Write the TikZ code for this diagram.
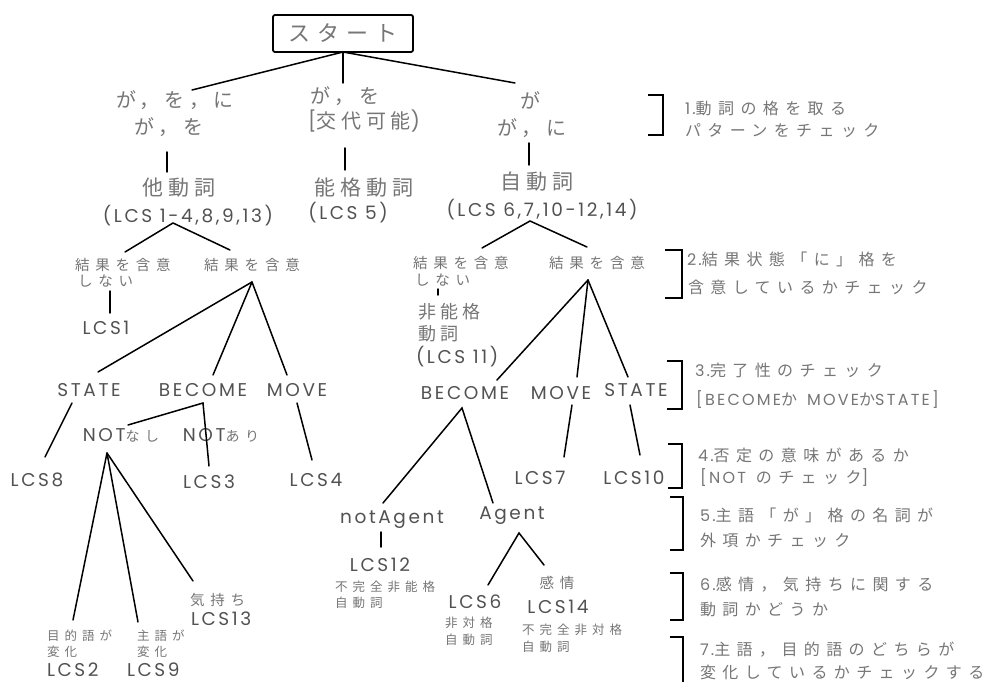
\documentclass[tikz,border=0pt]{standalone}
\usepackage{fontspec}
\setmainfont{Poppins}
\newfontfamily\lat[LetterSpace=14]{Poppins}
\newfontfamily\jpa[LetterSpace=40]{Noto Sans CJK JP}
\newfontfamily\jpb[LetterSpace=24]{Noto Sans CJK JP}
\newfontfamily\jpc[LetterSpace=32]{Noto Sans CJK JP}
\newcommand\fsz[1]{\fontsize{#1}{#1}\selectfont}
\definecolor{jtext}{HTML}{767676}
\definecolor{ltext}{HTML}{525252}
\tikzset{
  every node/.style={inner sep=0pt, outer sep=0pt},
  startbox/.style={draw, line width=1.8pt, rounded corners=2pt, minimum width=140pt, minimum height=37pt, font=\jpc\fsz{22}, text=jtext},
  jbig/.style={font=\jpb\fsz{20}, text=jtext},
  jmid/.style={font=\jpb\fsz{18}, text=jtext},
  jlab/.style={font=\jpb\fsz{21}, text=jtext},
  jsm/.style={font=\jpa\fsz{14.5}, text=jtext},
  jxs/.style={font=\jpa\fsz{12.5}, text=jtext},
  jann/.style={font=\jpa\fsz{16}, text=jtext, anchor=west},
  lab/.style={font=\lat\fsz{18.5}, text=ltext},
  conn/.style={line width=1.5pt, line cap=round},
  brk/.style={line width=2.4pt},
}
\begin{document}
\begin{tikzpicture}[x=1pt,y=-1pt]
\useasboundingbox (0,0) rectangle (999,682);
\fill[white] (0,0) rectangle (999,682);

% ---------- top ----------
\node[startbox] (start) at (343,33.5) {スタート};

\node[jbig] (g1a) at (175,100) {が，を，に};
\node[jbig] (g1b) at (169,127) {が，を};
\node[jbig] (g2a) at (345,96) {が，を};
\node[jbig] (g2b) at (364,121) {{\lat[}交代可能{\lat)}};
\node[jbig] (g3a) at (530,100) {が};
\node[jbig] (g3b) at (532,128) {が，に};

\node[jlab] (v1) at (179,188) {他動詞};
\node[lab] (l1) at (188,216) {(LCS 1-4,8,9,13)};
\node[jlab] (v2) at (364,188) {能格動詞};
\node[lab] (l2) at (348,213) {(LCS 5)};
\node[jlab] (v3) at (537,182) {自動詞};
\node[lab] (l3) at (542,210) {(LCS 6,7,10-12,14)};

\coordinate (e1a) at (192,90);
\coordinate (e2a) at (343,83);
\coordinate (e3a) at (515,83);
\draw[conn] (start.south) -- (e1a);
\draw[conn] (start.south) -- (e2a);
\draw[conn] (start.south) -- (e3a);

\coordinate (d1t) at (167,152); \coordinate (d1b) at (167,172);
\coordinate (d2t) at (345,148); \coordinate (d2b) at (345,170);
\coordinate (d3t) at (529,143); \coordinate (d3b) at (529,165);
\draw[conn] (d1t) -- (d1b);
\draw[conn] (d2t) -- (d2b);
\draw[conn] (d3t) -- (d3b);

% ---------- left tree ----------
\node[jsm, anchor=west] (kL1) at (75,265) {結果を含意};
\node[jsm, anchor=west] (kL1b) at (78,281) {しない};
\node[jsm] (kL2) at (252,265) {結果を含意};
\node[lab] (lcs1) at (106,328) {LCS1};
\coordinate (aL) at (173,223);
\coordinate (aL1) at (125,252);
\coordinate (aL2) at (230,250);
\draw[conn] (aL1) -- (aL) -- (aL2);
\coordinate (s1t) at (110,291); \coordinate (s1b) at (110,313);
\draw[conn] (s1t) -- (s1b);

\node[lab] (stL) at (89,390) {STATE};
\node[lab] (beL) at (203,390) {BECOME};
\node[lab] (moL) at (297,390) {MOVE};
\coordinate (aK) at (252,282);
\coordinate (stLt) at (98,372);
\coordinate (beLt) at (213,375);
\coordinate (moLt) at (287,375);
\draw[conn] (aK) -- (stLt);
\draw[conn] (aK) -- (beLt);
\draw[conn] (aK) -- (moLt);

\node[lab] (notn) at (121,435) {NOT{\jpa\fsz{14}\color{jtext}なし}};
\node[lab] (nota) at (221,435) {NOT{\jpa\fsz{14}\color{jtext}あり}};
\node[lab] (lcs8) at (37,480) {LCS8};
\node[lab] (lcs3) at (209,482) {LCS3};
\node[lab] (lcs4) at (316,480) {LCS4};

\coordinate (stLb) at (72,403); \coordinate (lcs8t) at (45,457);
\draw[conn] (stLb) -- (lcs8t);
\coordinate (beLb) at (203,403);
\coordinate (notnt) at (128,425);
\coordinate (lcs3t) at (209,466);
\draw[conn] (notnt) -- (beLb) -- (lcs3t);
\coordinate (moLb) at (297,403); \coordinate (lcs4t) at (312,460);
\draw[conn] (moLb) -- (lcs4t);

\node[jsm, anchor=west] (kimo) at (190,600) {気持ち};
\node[lab, anchor=west] (lcs13) at (191,619) {LCS13};
\node[jxs, anchor=west] (mok) at (47,636) {目的語が};
\node[jxs, anchor=west] (mok2) at (47,652) {変化};
\node[lab, anchor=west] (lcs2) at (47,670) {LCS2};
\node[jxs, anchor=west] (shu) at (137,636) {主語が};
\node[jxs, anchor=west] (shu2) at (137,652) {変化};
\node[lab, anchor=west] (lcs9) at (127,670) {LCS9};
\coordinate (aN) at (107,453);
\coordinate (mokt) at (73,620);
\coordinate (shut) at (138,622);
\coordinate (kimot) at (193,581);
\draw[conn] (aN) -- (mokt);
\draw[conn] (aN) -- (shut);
\draw[conn] (aN) -- (kimot);

% ---------- right tree ----------
\node[jsm, anchor=west] (kR1) at (413,263) {結果を含意};
\node[jsm, anchor=west] (kR1b) at (415,280) {しない};
\node[jsm] (kR2) at (597,263) {結果を含意};
\coordinate (aR) at (530,221);
\coordinate (aR1) at (482,248);
\coordinate (aR2) at (587,247);
\draw[conn] (aR1) -- (aR) -- (aR2);
\coordinate (tkt) at (438,289); \coordinate (tkb) at (438,295);
\draw[conn] (tkt) -- (tkb);

\node[jmid, anchor=west] (hin1) at (418,312) {非能格};
\node[jmid, anchor=west] (hin2) at (418,334) {動詞};
\node[lab, anchor=west] (lcs11) at (416,357) {(LCS 11)};

\node[lab] (beR) at (465,393) {BECOME};
\node[lab] (moR) at (561,393) {MOVE};
\node[lab] (stR) at (636,390) {STATE};
\coordinate (aK2) at (588,280);
\coordinate (beRt) at (497,380);
\coordinate (moRt) at (577,377);
\coordinate (stRt) at (628,377);
\draw[conn] (aK2) -- (beRt);
\draw[conn] (aK2) -- (moRt);
\draw[conn] (aK2) -- (stRt);

\node[lab] (lcs7) at (540,478) {LCS7};
\node[lab] (lcs10) at (634,478) {LCS10};
\coordinate (moRb) at (572,405); \coordinate (lcs7t) at (564,457);
\draw[conn] (moRb) -- (lcs7t);
\coordinate (stRb) at (630,405); \coordinate (lcs10t) at (640,455);
\draw[conn] (stRb) -- (lcs10t);

\node[lab] (nag) at (392,520) {notAgent};
\node[lab] (ag) at (512,516) {Agent};
\coordinate (aB) at (462,408);
\coordinate (nagt) at (383,503);
\coordinate (agt) at (493,503);
\draw[conn] (nagt) -- (aB) -- (agt);

\coordinate (nagb) at (381,532); \coordinate (lcs12t) at (381,547);
\draw[conn] (nagb) -- (lcs12t);
\node[lab] (lcs12) at (380,565) {LCS12};
\node[jxs, anchor=west] (fk1) at (335,587) {不完全非能格};
\node[jxs, anchor=west] (fk1b) at (335,603) {自動詞};

\coordinate (aA) at (519,533);
\coordinate (lcs6t) at (488,585);
\coordinate (kant) at (544,565);
\draw[conn] (lcs6t) -- (aA) -- (kant);
\node[lab] (lcs6) at (475,602) {LCS6};
\node[jxs, anchor=west] (ht1) at (445,623) {非対格};
\node[jxs, anchor=west] (ht2) at (445,640) {自動詞};
\node[jsm] (kan) at (557,583) {感情};
\node[lab] (lcs14) at (558,607) {LCS14};
\node[jxs, anchor=west] (ft1) at (522,630) {不完全非対格};
\node[jxs, anchor=west] (ft2) at (522,647) {自動詞};

% ---------- annotations ----------
\draw[brk] (648,95) -- (663,95) -- (663,135) -- (648,135);
\node[jann] (an1a) at (685,108) {{\lat 1.}動詞の格を取る};
\node[jann] (an1b) at (685,131) {パターンをチェック};

\draw[brk] (665,250) -- (682,250) -- (682,298) -- (665,298);
\node[jann] (an2a) at (687,259) {{\lat 2.}結果状態「に」格を};
\node[jann] (an2b) at (688,287) {含意しているかチェック};

\draw[brk] (667,361) -- (682,361) -- (682,409) -- (667,409);
\node[jann] (an3a) at (695,370) {{\lat 3.}完了性のチェック};
\node[jann] (an3b) at (696,400) {{\lat [BECOME}か {\lat MOVE}か{\lat STATE]}};

\draw[brk] (668,444) -- (682,444) -- (682,488) -- (668,488);
\node[jann] (an4a) at (698,455) {{\lat 4.}否定の意味があるか};
\node[jann] (an4b) at (700,478) {{\lat [NOT} のチェック{\lat ]}};

\draw[brk] (670,497) -- (683,497) -- (683,550) -- (670,550);
\node[jann] (an5a) at (700,515) {{\lat 5.}主語「が」格の名詞が};
\node[jann] (an5b) at (700,540) {外項かチェック};

\draw[brk] (670,573) -- (683,573) -- (683,620) -- (670,620);
\node[jann] (an6a) at (700,585) {{\lat 6.}感情，気持ちに関する};
\node[jann] (an6b) at (700,610) {動詞かどうか};

\draw[brk] (670,637) -- (683,637) -- (683,690);
\node[jann] (an7a) at (700,650) {{\lat 7.}主語，目的語のどちらが};
\node[jann] (an7b) at (700,672) {変化しているかチェックする};
\end{tikzpicture}
\end{document}
